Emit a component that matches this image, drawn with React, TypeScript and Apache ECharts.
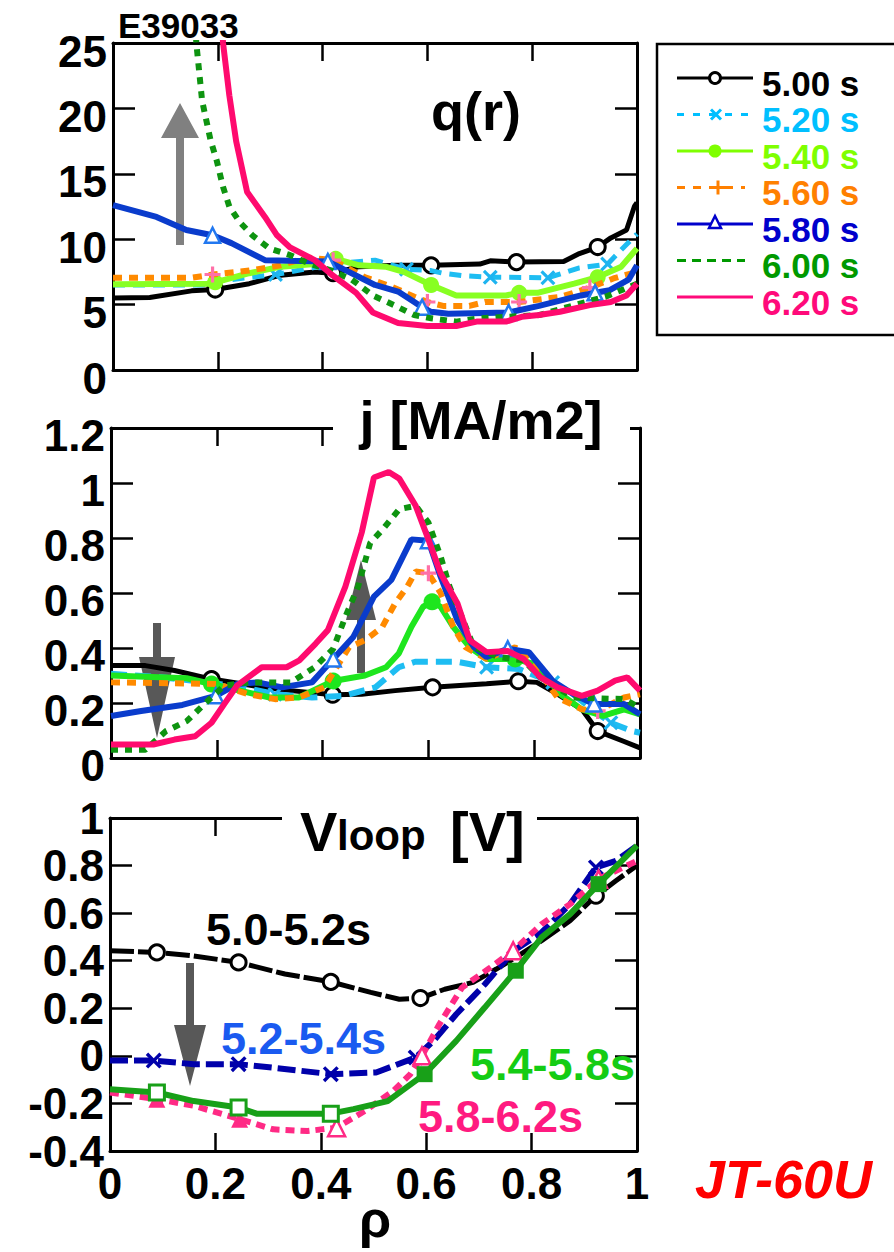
import React, { useEffect, useRef } from "react";
import * as echarts from "echarts";

type Pt = [number, number];

const FONT = '"Liberation Sans", Arial, Helvetica, sans-serif';

// ---------- labels ----------
const timeLabels = ["5.00 s", "5.20 s", "5.40 s", "5.60 s", "5.80 s", "6.00 s", "6.20 s"];
const vloopLabels = ["5.0-5.2s", "5.2-5.4s", "5.4-5.8s", "5.8-6.2s"];
const shotLabel = "E39033";

// ---------- panel 1 : q(r) ----------
const q500: Pt[] = [[0, 5.5], [0.07, 5.55], [0.15, 6.05], [0.195, 6.15], [0.26, 6.6], [0.32, 7.25], [0.385, 7.5], [0.42, 7.4], [0.47, 7.9], [0.54, 8.0], [0.607, 8.0], [0.7, 8.1], [0.72, 8.35], [0.77, 8.25], [0.86, 8.3], [0.89, 8.9], [0.925, 9.4], [0.95, 10.1], [0.98, 10.7], [0.995, 12.5], [1.0, 12.8]];
const q500Marks = [0.195, 0.42, 0.607, 0.77, 0.925];
const q520: Pt[] = [[0, 6.5], [0.17, 6.5], [0.2, 6.8], [0.31, 7.3], [0.42, 8.1], [0.5, 8.4], [0.56, 7.7], [0.607, 7.6], [0.63, 7.4], [0.67, 7.2], [0.72, 7.1], [0.83, 7.05], [0.89, 7.8], [0.944, 8.1], [0.97, 9.2], [1.0, 10.4]];
const q520Marks = [0.31, 0.56, 0.72, 0.83, 0.944];
const q540: Pt[] = [[0, 6.55], [0.18, 6.6], [0.195, 6.7], [0.26, 7.4], [0.32, 7.9], [0.385, 8.1], [0.425, 8.5], [0.47, 8.0], [0.52, 7.9], [0.555, 7.5], [0.607, 6.5], [0.655, 5.7], [0.75, 5.7], [0.775, 5.9], [0.81, 5.9], [0.88, 6.6], [0.925, 7.1], [0.97, 7.9], [1.0, 9.3]];
const q540Marks = [0.195, 0.425, 0.607, 0.775, 0.925];
const q560: Pt[] = [[0, 7.05], [0.15, 7.05], [0.19, 7.3], [0.26, 7.6], [0.32, 8.0], [0.37, 8.6], [0.42, 8.4], [0.48, 7.1], [0.53, 6.4], [0.575, 5.6], [0.6, 5.2], [0.63, 4.9], [0.68, 4.9], [0.71, 5.2], [0.775, 5.2], [0.855, 5.6], [0.91, 6.3], [0.955, 7.0], [1.0, 7.5]];
const q560Marks = [0.19, 0.42, 0.6, 0.775, 0.91];
const q580: Pt[] = [[0, 12.6], [0.083, 11.7], [0.14, 10.7], [0.19, 10.3], [0.226, 9.7], [0.29, 8.4], [0.337, 8.35], [0.41, 8.3], [0.45, 7.5], [0.5, 6.5], [0.544, 6.0], [0.575, 5.2], [0.59, 4.8], [0.607, 4.45], [0.64, 4.3], [0.755, 4.4], [0.813, 4.9], [0.893, 5.7], [0.92, 5.9], [0.948, 6.1], [0.984, 6.9], [1.0, 8.0]];
const q580Marks = [0.19, 0.41, 0.59, 0.755, 0.92];
const q600: Pt[] = [[0.15, 32], [0.159, 25], [0.17, 20.6], [0.186, 17.6], [0.198, 16.0], [0.21, 14.0], [0.222, 12.5], [0.242, 11.3], [0.266, 10.3], [0.298, 9.3], [0.337, 8.8], [0.377, 8.1], [0.417, 7.6], [0.456, 6.9], [0.496, 5.7], [0.536, 4.96], [0.575, 4.2], [0.607, 3.95], [0.655, 3.7], [0.7, 3.95], [0.813, 4.2], [0.893, 5.1], [0.94, 5.6], [0.97, 6.1], [1.0, 6.6]];
const q620: Pt[] = [[0.2, 32], [0.21, 25], [0.222, 21], [0.235, 17.5], [0.256, 13.6], [0.29, 11.7], [0.313, 10.3], [0.337, 9.4], [0.385, 8.4], [0.417, 7.3], [0.464, 5.9], [0.496, 4.4], [0.544, 3.6], [0.6, 3.36], [0.655, 3.36], [0.694, 3.7], [0.75, 3.7], [0.78, 4.07], [0.813, 4.2], [0.853, 4.45], [0.91, 4.96], [0.95, 5.2], [0.98, 5.7], [1.0, 6.6]];

// ---------- panel 2 : j ----------
const j500: Pt[] = [[0, 0.336], [0.065, 0.336], [0.12, 0.318], [0.19, 0.287], [0.246, 0.27], [0.285, 0.257], [0.34, 0.245], [0.419, 0.23], [0.474, 0.232], [0.537, 0.245], [0.608, 0.257], [0.71, 0.27], [0.77, 0.279], [0.805, 0.275], [0.844, 0.232], [0.89, 0.177], [0.92, 0.098], [0.97, 0.06], [1.0, 0.037]];
const j500Marks = [0.19, 0.419, 0.608, 0.77, 0.92];
const j520: Pt[] = [[0, 0.306], [0.1, 0.293], [0.18, 0.275], [0.25, 0.257], [0.31, 0.232], [0.38, 0.22], [0.44, 0.226], [0.5, 0.257], [0.544, 0.33], [0.575, 0.35], [0.654, 0.35], [0.71, 0.33], [0.77, 0.324], [0.835, 0.275], [0.874, 0.232], [0.913, 0.171], [0.945, 0.128], [0.985, 0.098], [1.0, 0.092]];
const j520Marks = [0.31, 0.71, 0.835, 0.945];
const j540: Pt[] = [[0, 0.3], [0.143, 0.29], [0.19, 0.269], [0.26, 0.238], [0.3, 0.22], [0.355, 0.22], [0.42, 0.28], [0.48, 0.3], [0.52, 0.33], [0.544, 0.38], [0.568, 0.477], [0.59, 0.55], [0.607, 0.568], [0.623, 0.55], [0.647, 0.477], [0.678, 0.403], [0.71, 0.36], [0.764, 0.36], [0.8, 0.342], [0.85, 0.232], [0.89, 0.177], [0.93, 0.153], [0.97, 0.177], [1.0, 0.159]];
const j540Marks = [0.19, 0.42, 0.607, 0.764];
const j560: Pt[] = [[0, 0.275], [0.2, 0.269], [0.26, 0.232], [0.31, 0.214], [0.355, 0.22], [0.403, 0.257], [0.45, 0.403], [0.48, 0.428], [0.513, 0.477], [0.537, 0.562], [0.56, 0.623], [0.576, 0.678], [0.6, 0.672], [0.623, 0.6], [0.647, 0.477], [0.67, 0.403], [0.71, 0.36], [0.764, 0.403], [0.8, 0.342], [0.844, 0.22], [0.89, 0.177], [0.92, 0.171], [0.97, 0.22], [1.0, 0.232]];
const j560Marks = [0.6, 0.92];
const j580: Pt[] = [[0, 0.153], [0.057, 0.171], [0.135, 0.193], [0.198, 0.226], [0.238, 0.269], [0.277, 0.275], [0.324, 0.257], [0.38, 0.275], [0.42, 0.36], [0.458, 0.44], [0.497, 0.587], [0.53, 0.648], [0.568, 0.795], [0.6, 0.79], [0.623, 0.66], [0.655, 0.5], [0.686, 0.403], [0.71, 0.367], [0.75, 0.397], [0.79, 0.385], [0.835, 0.28], [0.874, 0.232], [0.913, 0.196], [0.97, 0.196], [1.0, 0.159]];
const j580Marks = [0.198, 0.42, 0.6, 0.75, 0.913];
const j600: Pt[] = [[0, 0.03], [0.065, 0.03], [0.104, 0.098], [0.143, 0.134], [0.183, 0.208], [0.214, 0.263], [0.26, 0.275], [0.34, 0.275], [0.385, 0.33], [0.42, 0.397], [0.443, 0.513], [0.467, 0.623], [0.49, 0.782], [0.513, 0.83], [0.545, 0.905], [0.576, 0.917], [0.6, 0.856], [0.623, 0.733], [0.64, 0.623], [0.663, 0.513], [0.686, 0.403], [0.733, 0.367], [0.78, 0.355], [0.812, 0.293], [0.874, 0.22], [0.97, 0.214], [1.0, 0.183]];
const j620: Pt[] = [[0, 0.049], [0.08, 0.049], [0.12, 0.067], [0.159, 0.079], [0.19, 0.128], [0.214, 0.196], [0.238, 0.263], [0.285, 0.33], [0.332, 0.33], [0.356, 0.355], [0.387, 0.416], [0.41, 0.465], [0.443, 0.623], [0.474, 0.82], [0.497, 1.02], [0.525, 1.04], [0.545, 1.016], [0.576, 0.917], [0.6, 0.795], [0.623, 0.672], [0.655, 0.562], [0.678, 0.428], [0.71, 0.385], [0.75, 0.389], [0.78, 0.36], [0.812, 0.293], [0.844, 0.257], [0.89, 0.226], [0.92, 0.245], [0.953, 0.281], [0.976, 0.293], [1.0, 0.245]];

// ---------- panel 3 : Vloop ----------
const v500: Pt[] = [[0, 0.442], [0.089, 0.435], [0.159, 0.42], [0.244, 0.393], [0.332, 0.344], [0.419, 0.311], [0.495, 0.267], [0.549, 0.238], [0.589, 0.243], [0.635, 0.28], [0.689, 0.309], [0.733, 0.365], [0.765, 0.407], [0.819, 0.484], [0.873, 0.568], [0.922, 0.673], [0.96, 0.736], [1.0, 0.8]];
const v500Marks = [0.089, 0.244, 0.419, 0.589, 0.922];
const v520: Pt[] = [[0, -0.02], [0.083, -0.02], [0.159, -0.035], [0.244, -0.035], [0.31, -0.05], [0.419, -0.077], [0.505, -0.07], [0.58, -0.007], [0.614, 0.063], [0.657, 0.175], [0.711, 0.3], [0.765, 0.44], [0.819, 0.519], [0.873, 0.638], [0.922, 0.792], [0.96, 0.82], [1.0, 0.884]];
const v520Marks = [0.083, 0.244, 0.419, 0.58, 0.922];
const v540: Pt[] = [[0, -0.14], [0.089, -0.154], [0.159, -0.19], [0.244, -0.217], [0.278, -0.243], [0.419, -0.243], [0.462, -0.224], [0.527, -0.19], [0.597, -0.077], [0.657, 0.063], [0.711, 0.203], [0.77, 0.358], [0.819, 0.498], [0.873, 0.596], [0.927, 0.722], [1.0, 0.884]];
const v540OpenMarks = [0.089, 0.244, 0.419];
const v540FilledMarks = [0.597, 0.77, 0.927];
const v580: Pt[] = [[0, -0.154], [0.089, -0.182], [0.159, -0.21], [0.246, -0.266], [0.31, -0.309], [0.375, -0.316], [0.43, -0.302], [0.484, -0.231], [0.538, -0.147], [0.57, -0.077], [0.592, 0.0], [0.625, 0.133], [0.668, 0.287], [0.722, 0.372], [0.765, 0.442], [0.819, 0.554], [0.873, 0.638], [0.927, 0.743], [1.0, 0.82]];
const v580FilledMarks = [0.089, 0.246];
const v580OpenMarks = [0.43, 0.592, 0.765, 0.927];

// ---------- styling ----------
const X_PATH = "path://M1.5,0L5,3.5L8.5,0L10,1.5L6.5,5L10,8.5L8.5,10L5,6.5L1.5,10L0,8.5L3.5,5L0,1.5Z";
const PLUS_PATH = "path://M4,0H6V4H10V6H6V10H4V6H0V4H4Z";

const has = (list: number[], r: number) => list.some((m) => Math.abs(m - r) < 1e-9);

type MarkSpec = { marks: number[]; symbol: string; size: number; itemStyle: any };

function build(points: Pt[], specs: MarkSpec[]) {
  return points.map((p) => {
    const s = specs.find((sp) => has(sp.marks, p[0]));
    if (s) return { value: p, symbol: s.symbol, symbolSize: s.size, itemStyle: s.itemStyle };
    return { value: p, symbol: "none" };
  });
}

function lineSeries(name: string, axis: number, data: any[], color: string, width: number, type: any, z = 3) {
  return {
    name,
    type: "line",
    xAxisIndex: axis * 2,
    yAxisIndex: axis * 2,
    data,
    symbol: "none",
    showSymbol: true,
    clip: true,
    z,
    silent: true,
    lineStyle: { color, width, type, cap: "butt" },
    itemStyle: { color },
  };
}

const axisLineOpt = { show: true, onZero: false, lineStyle: { color: "#000", width: 3 } };

function makeX(gi: number, labels: boolean) {
  const base: any = {
    type: "value",
    gridIndex: gi,
    min: 0,
    max: 1,
    interval: 0.2,
    axisLine: axisLineOpt,
    axisTick: { show: true, inside: true, length: 18, lineStyle: { color: "#000", width: 2.5 } },
    splitLine: { show: false },
  };
  return [
    {
      ...base,
      position: "bottom",
      axisLabel: labels
        ? { show: true, fontSize: 44, fontWeight: "bold", fontFamily: FONT, color: "#000", margin: 10 }
        : { show: false },
    },
    { ...base, position: "top", axisLabel: { show: false } },
  ];
}

function makeY(gi: number, min: number, max: number, interval: number, shift: number) {
  const base: any = {
    type: "value",
    gridIndex: gi,
    min,
    max,
    interval,
    axisLine: axisLineOpt,
    axisTick: { show: true, inside: true, length: 22, lineStyle: { color: "#000", width: 2.5 } },
    splitLine: { show: false },
  };
  const label: any = { show: true, fontSize: 44, fontWeight: "bold", fontFamily: FONT, color: "#000", margin: 6 };
  if (shift > 0) {
    label.verticalAlign = "top";
    label.lineHeight = shift * 2;
  }
  return [
    { ...base, position: "left", axisLabel: label },
    { ...base, position: "right", axisLabel: { show: false } },
  ];
}

function txt(text: string, x: number, y: number, size: number, color: string, align = "left", italic = false, lineHeight?: number) {
  const style: any = {
    text,
    x,
    y,
    fill: color,
    font: `${italic ? "italic " : ""}bold ${size}px ${FONT}`,
    textAlign: align,
    align,
    textVerticalAlign: "middle",
    verticalAlign: "middle",
  };
  if (lineHeight) style.lineHeight = lineHeight;
  return { type: "text", z: 12, silent: true, style };
}

function arrow(pts: number[][], color: string) {
  return { type: "polygon", z: 1, silent: true, shape: { points: pts }, style: { fill: color } };
}

// legend styling per time slice
const legendColors = ["#000000", "#00BFFF", "#7FFF00", "#FF8000", "#0000CC", "#009900", "#FF0A7A"];
const legendRows = [83, 119.5, 156, 192.5, 229, 265.5, 302];

function buildLegend() {
  const els: any[] = [
    { type: "rect", z: 10, silent: true, shape: { x: 657, y: 44, width: 270, height: 291 }, style: { fill: "#fff", stroke: "#000", lineWidth: 2.5 } },
  ];
  const dashes: any[] = [null, [7, 9], null, [8, 8], null, [9, 6], null];
  legendRows.forEach((cy, i) => {
    const yl = cy - 5;
    const c = legendColors[i];
    els.push({
      type: "line",
      z: 11,
      silent: true,
      shape: { x1: 677, y1: yl, x2: i === 3 || i === 5 ? 745 : 753, y2: yl },
      style: { stroke: c, lineWidth: 3, lineDash: dashes[i] || undefined },
    });
    if (i === 0) els.push({ type: "circle", z: 12, silent: true, shape: { cx: 715, cy: yl, r: 5.5 }, style: { fill: "#fff", stroke: c, lineWidth: 3 } });
    if (i === 1) {
      els.push({ type: "line", z: 12, silent: true, shape: { x1: 711, y1: yl - 5, x2: 721, y2: yl + 5 }, style: { stroke: c, lineWidth: 3 } });
      els.push({ type: "line", z: 12, silent: true, shape: { x1: 711, y1: yl + 5, x2: 721, y2: yl - 5 }, style: { stroke: c, lineWidth: 3 } });
    }
    if (i === 2) els.push({ type: "circle", z: 12, silent: true, shape: { cx: 715, cy: yl, r: 6.5 }, style: { fill: c } });
    if (i === 3) {
      els.push({ type: "line", z: 12, silent: true, shape: { x1: 711, y1: yl, x2: 725, y2: yl }, style: { stroke: c, lineWidth: 3 } });
      els.push({ type: "line", z: 12, silent: true, shape: { x1: 718, y1: yl - 7, x2: 718, y2: yl + 7 }, style: { stroke: c, lineWidth: 3 } });
    }
    if (i === 4)
      els.push({ type: "polygon", z: 12, silent: true, shape: { points: [[715, yl - 8], [721, yl + 4], [709, yl + 4]] }, style: { fill: "#fff", stroke: c, lineWidth: 2.5 } });
    els.push(txt(timeLabels[i], 762, cy, 35, c, "left", false, 34));
  });
  return els;
}

function buildOption() {
  const blackOpen = { color: "#fff", borderColor: "#000", borderWidth: 3 };

  const series: any[] = [
    // panel 1
    lineSeries("q 5.00", 0, build(q500, [{ marks: q500Marks, symbol: "circle", size: 15, itemStyle: blackOpen }]), "#000", 5, "solid", 3),
    lineSeries("q 5.20", 0, build(q520, [{ marks: q520Marks, symbol: X_PATH, size: 15, itemStyle: { color: "#1EB4F0" } }]), "#1EBDF2", 5, [12, 8], 4),
    lineSeries("q 5.40", 0, build(q540, [{ marks: q540Marks, symbol: "circle", size: 16, itemStyle: { color: "#88FF22" } }]), "#88FF22", 6, "solid", 5),
    lineSeries("q 5.60", 0, build(q560, [{ marks: q560Marks, symbol: PLUS_PATH, size: 16, itemStyle: { color: "#FF70A8" } }]), "#FF8A00", 6, [9, 7], 6),
    lineSeries("q 5.80", 0, build(q580, [{ marks: q580Marks, symbol: "triangle", size: 15, itemStyle: { color: "#fff", borderColor: "#2278F0", borderWidth: 2.5 } }]), "#0A3CCC", 6, "solid", 7),
    lineSeries("q 6.00", 0, build(q600, []), "#0E9410", 6, [7, 7], 8),
    lineSeries("q 6.20", 0, build(q620, []), "#FF0A6E", 6, "solid", 9),
    // panel 2
    lineSeries("j 5.00", 1, build(j500, [{ marks: j500Marks, symbol: "circle", size: 15, itemStyle: blackOpen }]), "#000", 5, "solid", 3),
    lineSeries("j 5.20", 1, build(j520, [{ marks: j520Marks, symbol: X_PATH, size: 15, itemStyle: { color: "#1EB4F0" } }]), "#1EBDF2", 6, [16, 8], 4),
    lineSeries("j 5.40", 1, build(j540, [{ marks: j540Marks, symbol: "circle", size: 17, itemStyle: { color: "#1EE61E" } }]), "#1EE61E", 6, "solid", 5),
    lineSeries("j 5.60", 1, build(j560, [{ marks: j560Marks, symbol: PLUS_PATH, size: 16, itemStyle: { color: "#FF70A8" } }]), "#FF8A00", 6, [9, 7], 6),
    lineSeries("j 5.80", 1, build(j580, [{ marks: j580Marks, symbol: "triangle", size: 15, itemStyle: { color: "#fff", borderColor: "#2278F0", borderWidth: 2.5 } }]), "#0A3CCC", 6, "solid", 7),
    lineSeries("j 6.00", 1, build(j600, []), "#0E9410", 6, [7, 7], 8),
    lineSeries("j 6.20", 1, build(j620, []), "#FF0A6E", 6, "solid", 9),
    // panel 3
    lineSeries("V 5.0-5.2", 2, build(v500, [{ marks: v500Marks, symbol: "circle", size: 15, itemStyle: blackOpen }]), "#000", 5, [24, 4], 3),
    lineSeries("V 5.2-5.4", 2, build(v520, [{ marks: v520Marks, symbol: X_PATH, size: 16, itemStyle: { color: "#0000AA" } }]), "#0000AA", 6, [18, 6], 4),
    lineSeries(
      "V 5.8-6.2",
      2,
      build(v580, [
        { marks: v580FilledMarks, symbol: "triangle", size: 17, itemStyle: { color: "#FF2A85" } },
        { marks: v580OpenMarks, symbol: "triangle", size: 17, itemStyle: { color: "#fff", borderColor: "#FF2A85", borderWidth: 2.5 } },
      ]),
      "#FF2A85",
      6,
      [9, 6],
      5
    ),
    lineSeries(
      "V 5.4-5.8",
      2,
      build(v540, [
        { marks: v540OpenMarks, symbol: "rect", size: 15, itemStyle: { color: "#fff", borderColor: "#18A018", borderWidth: 3 } },
        { marks: v540FilledMarks, symbol: "rect", size: 16, itemStyle: { color: "#18A018" } },
      ]),
      "#18A018",
      6,
      "solid",
      6
    ),
  ];

  const graphic: any[] = [
    // gray arrows
    arrow([[176, 245], [184, 245], [184, 138], [199, 138], [180, 103], [161, 138], [176, 138]], "#808080"),
    arrow([[153, 623], [161, 623], [161, 657], [175, 657], [157, 738], [139, 657], [153, 657]], "#585858"),
    arrow([[357, 673], [365, 673], [365, 620], [376, 620], [361, 560], [346, 620], [357, 620]], "#585858"),
    arrow([[186, 963], [194, 963], [194, 1025], [206, 1025], [190, 1086], [174, 1025], [186, 1025]], "#585858"),
    // title backgrounds
    { type: "rect", z: 10, silent: true, shape: { x: 333, y: 398, width: 297, height: 58 }, style: { fill: "#fff" } },
    { type: "rect", z: 10, silent: true, shape: { x: 282, y: 798, width: 255, height: 68 }, style: { fill: "#fff" } },
    // titles
    txt("q(r)", 476, 111, 54, "#000", "center"),
    txt("j [MA/m2]", 481, 420, 54, "#000", "center"),
    txt("V", 300, 831, 56, "#000"),
    txt("loop", 337, 835, 42, "#000"),
    txt("[V]", 450, 831, 56, "#000"),
    txt(shotLabel, 118, 25, 35, "#000"),
    // panel 3 labels
    txt(vloopLabels[0], 206, 929, 45, "#000"),
    txt(vloopLabels[1], 221, 1038, 45, "#1A5AF0"),
    txt(vloopLabels[2], 470, 1064, 45, "#14CC14"),
    txt(vloopLabels[3], 418, 1116, 45, "#FF1A80"),
    // axis name and logo
    txt("ρ", 375, 1219, 52, "#000", "center"),
    txt("JT-60U", 695, 1179, 54, "#FF0000", "left", true),
    ...buildLegend(),
  ];

  return {
    animation: false,
    backgroundColor: "#fff",
    grid: [
      { left: 113, top: 43, width: 524, height: 327 },
      { left: 111, top: 428, width: 529, height: 330 },
      { left: 110, top: 818, width: 527, height: 333 },
    ],
    xAxis: [...makeX(0, false), ...makeX(1, false), ...makeX(2, true)],
    yAxis: [...makeY(0, 0, 25, 5, 8), ...makeY(1, 0, 1.2, 0.2, 7), ...makeY(2, -0.4, 1, 0.2, 0)],
    series,
    graphic,
  };
}

export default function App() {
  const ref = useRef<HTMLDivElement>(null);
  useEffect(() => {
    if (!ref.current) return;
    const chart = echarts.init(ref.current, undefined, { renderer: "svg" });
    chart.setOption(buildOption() as any);
    return () => chart.dispose();
  }, []);
  return <div ref={ref} style={{ position: "absolute", left: 0, top: 0, width: 894, height: 1252, background: "#fff" }} />;
}
